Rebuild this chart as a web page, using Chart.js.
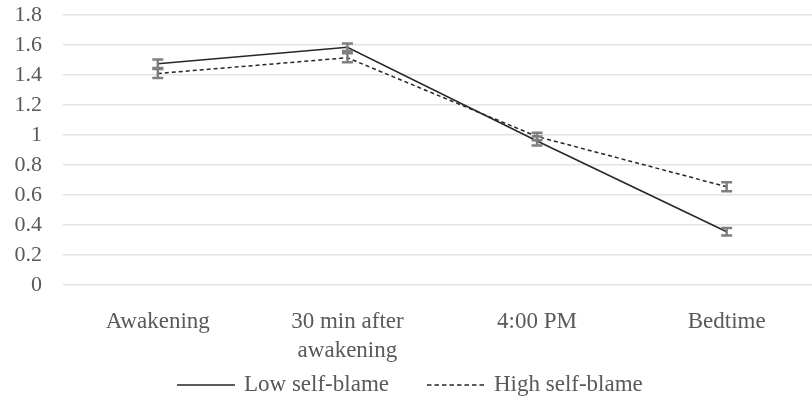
<!DOCTYPE html>
<html>
<head>
<meta charset="utf-8">
<script src="https://cdn.jsdelivr.net/npm/chart.js@4/dist/chart.umd.min.js"></script>
<style>
  html, body { margin: 0; padding: 0; background: #fff; }
  #wrap { width: 812px; height: 405px; position: relative; }
</style>
</head>
<body>
<div id="wrap"><canvas id="chart"></canvas></div>
<script>
// chart values
const timePoints = [['Awakening'], ['30 min after', 'awakening'], ['4:00 PM'], ['Bedtime']];
const lowSelfBlame = [1.475, 1.585, 0.96, 0.355];
const lowErr = [0.028, 0.025, 0.03, 0.025];
const highSelfBlame = [1.41, 1.515, 0.99, 0.655];
const highErr = [0.03, 0.03, 0.025, 0.03];
const yTicks = [0, 0.2, 0.4, 0.6, 0.8, 1, 1.2, 1.4, 1.6, 1.8];

const serif = "'Liberation Serif', 'Times New Roman', serif";
const textColor = '#595959';
const lineColor = '#262626';

function toPoints(values) {
    return values.map((v, i) => ({ x: i, y: v }));
}

// grey error bars on top of the lines
const errorBars = {
    id: 'errorBars',
    afterDatasetsDraw(chart) {
        const ctx = chart.ctx;
        const xs = chart.scales.x;
        const ys = chart.scales.y;
        const errs = [lowErr, highErr];
        ctx.save();
        ctx.strokeStyle = '#7f7f7f';
        ctx.lineWidth = 2.5;
        chart.data.datasets.forEach((ds, d) => {
            ds.data.forEach((p, i) => {
                const x = xs.getPixelForValue(p.x);
                const top = ys.getPixelForValue(p.y + errs[d][i]);
                const bot = ys.getPixelForValue(p.y - errs[d][i]);
                ctx.beginPath();
                ctx.moveTo(x, top);
                ctx.lineTo(x, bot);
                ctx.moveTo(x - 5.5, top);
                ctx.lineTo(x + 5.5, top);
                ctx.moveTo(x - 5.5, bot);
                ctx.lineTo(x + 5.5, bot);
                ctx.stroke();
            });
        });
        ctx.restore();
    }
};

// legend drawn by hand so it sits where the original one does
const bottomLegend = {
    id: 'bottomLegend',
    afterDraw(chart) {
        const ctx = chart.ctx;
        let x = 177;
        const y = 385;
        ctx.save();
        ctx.font = '23px ' + serif;
        ctx.textBaseline = 'middle';
        chart.data.datasets.forEach((ds) => {
            ctx.strokeStyle = lineColor;
            ctx.lineWidth = 1.5;
            ctx.setLineDash(ds.borderDash ? [4.5, 3] : []);
            ctx.beginPath();
            ctx.moveTo(x, y);
            ctx.lineTo(x + 58, y);
            ctx.stroke();
            ctx.setLineDash([]);
            ctx.fillStyle = textColor;
            ctx.fillText(ds.label, x + 67, y);
            x += 67 + ctx.measureText(ds.label).width + 38;
        });
        ctx.restore();
    }
};

new Chart(document.getElementById('chart'), {
    type: 'line',
    data: {
        datasets: [{
            label: 'Low self-blame',
            data: toPoints(lowSelfBlame),
            borderColor: lineColor,
            borderWidth: 1.5,
            pointRadius: 0,
            tension: 0
        }, {
            label: 'High self-blame',
            data: toPoints(highSelfBlame),
            borderColor: lineColor,
            borderWidth: 1.5,
            borderDash: [4, 3],
            pointRadius: 0,
            tension: 0
        }]
    },
    options: {
        responsive: true,
        maintainAspectRatio: false,
        animation: false,
        layout: { padding: { left: 15, top: 15, right: 0, bottom: 39 } },
        scales: {
            x: {
                type: 'linear',
                min: -0.5,
                max: 3.45,
                grid: { display: false, drawTicks: false },
                border: { display: false },
                afterBuildTicks: (scale) => {
                    scale.ticks = timePoints.map((t, i) => ({ value: i }));
                },
                afterFit: (scale) => {
                    scale.height = 81;
                    scale.paddingLeft = 0;
                    scale.paddingRight = 0;
                },
                ticks: {
                    color: textColor,
                    padding: 23,
                    maxRotation: 0,
                    autoSkip: false,
                    font: { family: serif, size: 23, lineHeight: 1.25 },
                    callback: (v) => timePoints[v]
                }
            },
            y: {
                min: 0,
                max: 1.8,
                grid: { color: '#e3e3e3', lineWidth: 1.5, drawTicks: false },
                border: { display: false },
                afterBuildTicks: (scale) => {
                    scale.ticks = yTicks.map(v => ({ value: v }));
                },
                afterFit: (scale) => {
                    scale.width = 48;
                    scale.paddingTop = 0;
                    scale.paddingBottom = 0;
                },
                ticks: {
                    color: textColor,
                    padding: 21,
                    autoSkip: false,
                    font: { family: serif, size: 22 },
                    callback: (v) => String(v)
                }
            }
        },
        plugins: {
            legend: { display: false },
            tooltip: { enabled: false }
        }
    },
    plugins: [errorBars, bottomLegend]
});
</script>
</body>
</html>
